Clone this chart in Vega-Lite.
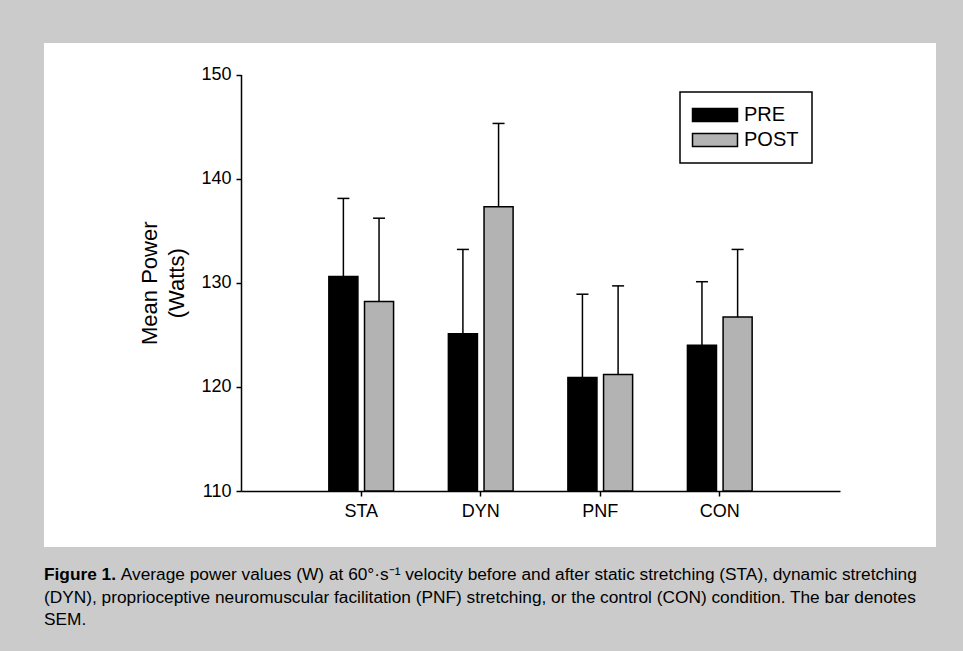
{
  "$schema": "https://vega.github.io/schema/vega-lite/v6.json",
  "autosize": {"type": "none"},
  "padding": {"left": 44, "top": 43, "right": 27, "bottom": 104},
  "width": 892,
  "height": 504,
  "background": "#cbcbcb",
  "title": {
    "text": "Figure 1.",
    "subtitle": [
      "\u200b\u00a0\u00a0\u00a0\u00a0\u00a0\u00a0\u00a0\u00a0\u00a0\u00a0\u00a0\u00a0\u00a0\u00a0\u00a0\u00a0Average power values (W) at 60°·s⁻¹ velocity before and after static stretching (STA), dynamic stretching",
      "(DYN), proprioceptive neuromuscular facilitation (PNF) stretching, or the control (CON) condition. The bar denotes",
      "SEM."
    ],
    "orient": "bottom",
    "anchor": "start",
    "frame": "group",
    "offset": 19,
    "font": "Liberation Sans",
    "fontSize": 17.3,
    "fontWeight": "bold",
    "color": "#000000",
    "subtitleFont": "Liberation Sans",
    "subtitleFontSize": 17.3,
    "subtitleColor": "#000000",
    "subtitlePadding": -17.3,
    "subtitleLineHeight": 22.5,
    "limit": 0
  },
  "data": {
    "values": [
      {"cond": "STA", "time": "PRE", "value": 130.6, "err": 138.1},
      {"cond": "STA", "time": "POST", "value": 128.2, "err": 136.2},
      {"cond": "DYN", "time": "PRE", "value": 125.1, "err": 133.2},
      {"cond": "DYN", "time": "POST", "value": 137.3, "err": 145.3},
      {"cond": "PNF", "time": "PRE", "value": 120.9, "err": 128.9},
      {"cond": "PNF", "time": "POST", "value": 121.2, "err": 129.7},
      {"cond": "CON", "time": "PRE", "value": 124.0, "err": 130.1},
      {"cond": "CON", "time": "POST", "value": 126.7, "err": 133.2}
    ]
  },
  "encoding": {
    "x": {
      "field": "cond",
      "type": "nominal",
      "sort": ["STA", "DYN", "PNF", "CON"],
      "scale": {"range": [197, 796], "paddingInner": 0.4585, "paddingOuter": 0.735},
      "axis": {
        "title": null,
        "offset": -56,
        "labelAngle": 0,
        "labelFontSize": 18,
        "labelColor": "#000000",
        "labelPadding": 6,
        "tickSize": 5,
        "tickWidth": 1.5,
        "tickColor": "#000000",
        "domainColor": "#000000",
        "domainWidth": 1.5,
        "grid": false
      }
    },
    "xOffset": {
      "field": "time",
      "type": "nominal",
      "sort": ["PRE", "POST"],
      "scale": {"paddingInner": 0.185, "paddingOuter": 0}
    }
  },
  "layer": [
    {
      "mark": {"type": "bar", "stroke": "#000000", "strokeWidth": 1.5},
      "encoding": {
        "y": {
          "field": "value",
          "type": "quantitative",
          "scale": {"domain": [110, 150], "range": [448, 31.5], "zero": false, "nice": false},
          "axis": {
            "title": ["Mean Power", "(Watts)"],
            "titleFontSize": 22,
            "titleFontWeight": "normal",
            "titleColor": "#000000",
            "titleLineHeight": 27,
            "titlePadding": 12,
            "offset": -197,
            "values": [110, 120, 130, 140, 150],
            "labelFontSize": 18,
            "labelColor": "#000000",
            "labelPadding": 5,
            "tickSize": 5,
            "tickWidth": 1.5,
            "tickColor": "#000000",
            "domainColor": "#000000",
            "domainWidth": 1.5,
            "grid": false
          }
        },
        "y2": {"datum": 110},
        "color": {
          "field": "time",
          "type": "nominal",
          "scale": {"domain": ["PRE", "POST"], "range": ["#000000", "#b3b3b3"]},
          "legend": {
            "orient": "none",
            "legendX": 636,
            "legendY": 49,
            "title": null,
            "symbolType": "M-3.46,-1H3.46V1H-3.46Z",
            "symbolSize": 169,
            "symbolStrokeColor": "#000000",
            "symbolStrokeWidth": 1.5,
            "symbolOpacity": 1,
            "symbolOffset": 12,
            "labelOffset": 19,
            "labelFontSize": 20,
            "labelColor": "#000000",
            "padding": 13,
            "rowPadding": 5,
            "strokeColor": "#000000",
            "fillColor": "#ffffff"
          }
        }
      }
    },
    {
      "mark": {"type": "rule", "stroke": "#000000", "strokeWidth": 1.5},
      "encoding": {
        "y": {"field": "value", "type": "quantitative"},
        "y2": {"field": "err"}
      }
    },
    {
      "mark": {"type": "tick", "color": "#000000", "size": 12, "thickness": 1.5, "opacity": 1},
      "encoding": {
        "y": {"field": "err", "type": "quantitative"}
      }
    }
  ],
  "config": {
    "font": "Liberation Sans",
    "view": {"stroke": null, "fill": "#ffffff"},
    "legend": {"strokeWidth": 1.5}
  }
}
